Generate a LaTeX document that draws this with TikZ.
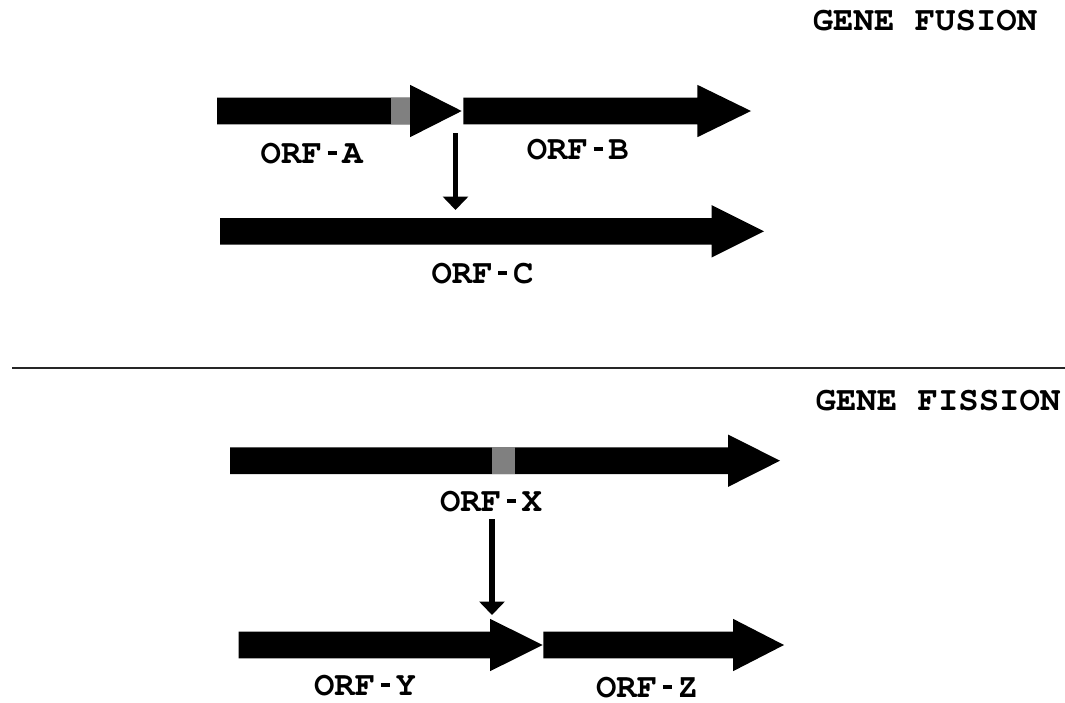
\documentclass[tikz,border=0pt]{standalone}
\usepackage[T1]{fontenc}
\usetikzlibrary{arrows.meta}
% short, thick hyphen used in the ORF names
\newcommand{\orfdash}{\makebox[0.6em]{\rule[0.25em]{0.27em}{0.1em}}}
\tikzset{
  genebar/.style={fill=black},
  sitebox/.style={fill=black!50},
  orflabel/.style={anchor=base, inner sep=0pt, font=\fontfamily{pcr}\fontseries{b}\fontsize{34}{40}\selectfont},
  eventarrow/.style={line width=5.5pt, -{Triangle[width=25pt,length=13.5pt]}},
}
% \orfshape{start}{head start}{tip}{centre y}
\newcommand{\orfshape}[4]{%
  \fill[genebar] (#1,#4-13.3) -- (#2,#4-13.3) -- (#2,#4-26.2) -- (#3,#4)
    -- (#2,#4+26.2) -- (#2,#4+13.3) -- (#1,#4+13.3) -- cycle;}
\begin{document}
\begin{tikzpicture}[x=1pt,y=-1pt]
\useasboundingbox (0,0) rectangle (1065,702);

% ---- gene fusion ----
\node[orflabel] (fusion) at (925,30) {GENE FUSION};
\orfshape{217}{410}{461.7}{111}
\fill[sitebox] (390.7,97.7) rectangle (410,124.3);
\orfshape{463.3}{697.3}{751}{111}
\orfshape{220}{711.7}{764}{231.3}
\node[orflabel] (orfA) at (311.7,163) {ORF\orfdash A};
\node[orflabel] (orfB) at (577.8,159) {ORF\orfdash B};
\node[orflabel] (orfC) at (482.5,283) {ORF\orfdash C};
\coordinate (fuseTop) at (455.5,133);
\coordinate (fuseEnd) at (455.5,210);
\draw[eventarrow] (fuseTop) -- (fuseEnd);

% ---- divider ----
\coordinate (divL) at (12,368);
\coordinate (divR) at (1065,368);
\draw[line width=1.1pt, black!85] (divL) -- (divR);

% ---- gene fission ----
\node[orflabel] (fission) at (938,410) {GENE FISSION};
\orfshape{230}{728}{780}{460.7}
\fill[sitebox] (491.7,447.4) rectangle (515,474);
\orfshape{238.5}{490}{542.7}{645}
\orfshape{543.3}{733}{784}{645}
\node[orflabel] (orfX) at (491,511) {ORF\orfdash X};
\node[orflabel] (orfY) at (365,695) {ORF\orfdash Y};
\node[orflabel] (orfZ) at (647,697) {ORF\orfdash Z};
\coordinate (fissTop) at (492,519);
\coordinate (fissEnd) at (492,615);
\draw[eventarrow] (fissTop) -- (fissEnd);
\end{tikzpicture}
\end{document}
